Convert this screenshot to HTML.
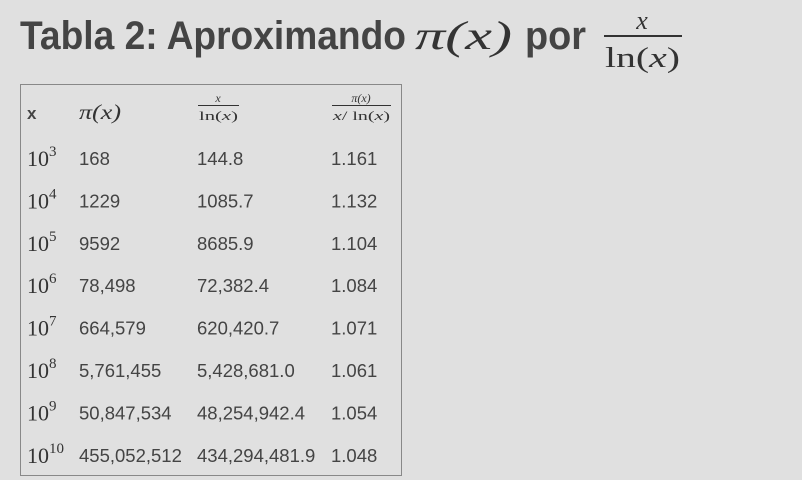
<!DOCTYPE html>
<html><head><meta charset="utf-8"><style>
html,body{margin:0;padding:0;background:#e0e0e0;}
svg{display:block}
.t{font-family:"Liberation Sans",sans-serif;fill:#444;}
.m{font-family:"Liberation Serif",serif;fill:#333;}
</style></head><body>
<svg width="802" height="480" viewBox="0 0 802 480">
<g>
<text class="t" x="20" y="49" font-size="40" font-weight="bold" textLength="386" lengthAdjust="spacingAndGlyphs">Tabla 2: Aproximando</text>
<text class="m" x="415" y="49" font-size="40" font-style="italic" textLength="97" lengthAdjust="spacingAndGlyphs">π(x)</text>
<text class="t" x="525" y="49" font-size="40" font-weight="bold" textLength="61" lengthAdjust="spacingAndGlyphs">por</text>
<text class="m" x="642" y="29" font-size="26" font-style="italic" text-anchor="middle">x</text>
<rect x="604" y="35" width="78" height="2" fill="#333"/>
<text class="m" x="605" y="67" font-size="28" textLength="75" lengthAdjust="spacingAndGlyphs">ln(<tspan font-style="italic">x</tspan>)</text>
</g>
<rect x="20.5" y="84.5" width="381" height="391" fill="none" stroke="#888" stroke-width="1"/>
<g>
<text class="t" x="27" y="119" font-size="17" font-weight="bold">x</text>
<text class="m" x="79" y="119" font-size="21" font-style="italic" textLength="42" lengthAdjust="spacingAndGlyphs">π(x)</text>
<text class="m" x="218" y="102" font-size="12" font-style="italic" text-anchor="middle">x</text>
<rect x="198" y="105" width="41" height="1" fill="#333"/>
<text class="m" x="199" y="120" font-size="13" textLength="39" lengthAdjust="spacingAndGlyphs">ln(<tspan font-style="italic">x</tspan>)</text>
<text class="m" x="361" y="102" font-size="12" font-style="italic" text-anchor="middle">π(x)</text>
<rect x="332" y="105" width="59" height="1" fill="#333"/>
<text class="m" x="333" y="120" font-size="13" textLength="57" lengthAdjust="spacingAndGlyphs"><tspan font-style="italic">x</tspan>/ ln(<tspan font-style="italic">x</tspan>)</text>
</g>
<g id="rows"></g>
</svg>
<script>
const exps=[3,4,5,6,7,8,9,10];
const piVals=["168","1229","9592","78,498","664,579","5,761,455","50,847,534","455,052,512"];
const approxVals=["144.8","1085.7","8685.9","72,382.4","620,420.7","5,428,681.0","48,254,942.4","434,294,481.9"];
const ratioVals=["1.161","1.132","1.104","1.084","1.071","1.061","1.054","1.048"];
const NS="http://www.w3.org/2000/svg";
const g=document.getElementById('rows');
function txt(cls,x,y,fs,s){const t=document.createElementNS(NS,'text');t.setAttribute('class',cls);t.setAttribute('x',x);t.setAttribute('y',y);t.setAttribute('font-size',fs);t.textContent=s;return t;}
exps.forEach((e,i)=>{
 const y=165+i*42.4;
 const row=document.createElementNS(NS,'g');
 
 
 const a=txt('m',27,y+1,22,'10');
 const sup=document.createElementNS(NS,'tspan');sup.setAttribute('dy','-10');sup.setAttribute('font-size','15');sup.textContent=e;a.appendChild(sup);
 
 
 const b=txt('t',79,y,18.5,piVals[i]);
 
 
 const c=txt('t',197,y,18.5,approxVals[i]);
 
 
 const d=txt('t',331,y,18.5,ratioVals[i]);
 
 
 row.append(a,b,c,d);g.appendChild(row);
});
</script>
</body></html>
